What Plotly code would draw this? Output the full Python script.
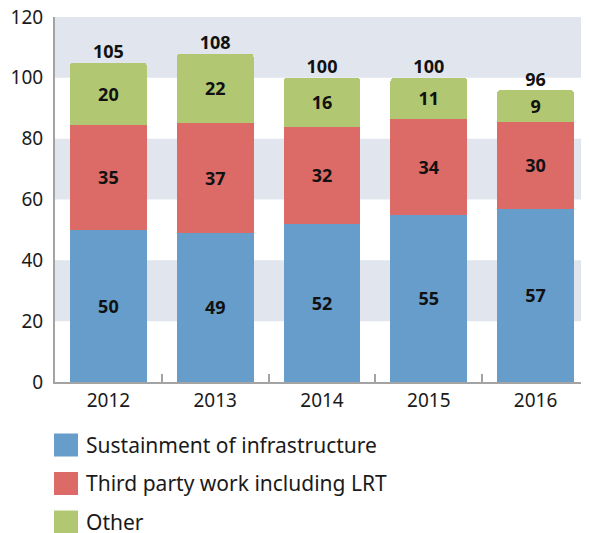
import plotly.graph_objects as go

years = ["2012", "2013", "2014", "2015", "2016"]
# printed data labels
sustainment_labels = [50, 49, 52, 55, 57]
third_party_labels = [35, 37, 32, 34, 30]
other_labels = [20, 22, 16, 11, 9]
totals = [105, 108, 100, 100, 96]
# segment heights as drawn in the picture
sustainment = [50, 49, 52, 55, 57]
third_party = [34.5, 36, 32, 31.5, 28.5]
other = [20.5, 23, 16, 13.5, 10.5]
series_names = ["Sustainment of infrastructure", "Third party work including LRT", "Other"]
colors = ["#669DCB", "#DC6B67", "#B1C772"]
y_ticks = [0, 20, 40, 60, 80, 100, 120]

FONT = "Noto Sans"
OFF = 8  # page body margin
fig = go.Figure()
for name, vals, labs, col in zip(series_names, [sustainment, third_party, other],
                                 [sustainment_labels, third_party_labels, other_labels], colors):
    fig.add_trace(go.Bar(
        x=years, y=vals, name=name, marker=dict(color=col, line=dict(width=0)),
        text=[str(v) for v in labs], textposition="inside", insidetextanchor="middle",
        textfont=dict(family=FONT, size=18, color="#111111", weight="bold"),
        textangle=0, constraintext="none", showlegend=False, hoverinfo="skip",
    ))

# totals above bars
fig.add_trace(go.Scatter(
    x=years, y=totals, mode="text", text=[f"<b>{t}</b>" for t in totals],
    textposition="top center", textfont=dict(family=FONT, size=18, color="#111111"),
    showlegend=False, hoverinfo="skip", cliponaxis=False,
))

# alternating bands
for lo in [20, 60, 100]:
    fig.add_shape(type="rect", xref="paper", yref="y", x0=0, x1=1, y0=lo, y1=lo + 20,
                  fillcolor="#E1E5EE", line=dict(width=0), layer="below")

# manual legend (pixel positions in picture -> paper coords)
L, T, B = 55 - OFF, 17 - OFF, 382 - OFF
W, H = 589 - OFF, 533 - OFF
PW, PH = float(W - L), float(B - T)
for i, (name, col) in enumerate(zip(series_names, colors)):
    cy = 445 + i * 38.5 - OFF
    fig.add_shape(type="rect", xref="paper", yref="paper",
                  x0=(54 - OFF - L) / PW, x1=(78 - OFF - L) / PW,
                  y0=(B - (cy + 11.5)) / PH, y1=(B - (cy - 11.5)) / PH,
                  fillcolor=col, line=dict(width=0))
    fig.add_annotation(xref="paper", yref="paper", x=(84 - OFF - L) / PW, y=(B - cy) / PH,
                       text=name, showarrow=False, xanchor="left", yanchor="middle",
                       font=dict(family=FONT, size=21, color="#1a1a1a"))

fig.update_layout(
    barmode="stack", bargap=0.28, barcornerradius=4,
    width=W, height=H, margin=dict(l=L, r=0, t=T, b=H - B, autoexpand=False),
    plot_bgcolor="white", paper_bgcolor="white",
    font=dict(family=FONT, size=19, color="#1a1a1a"),
    xaxis=dict(type="category", range=[-0.5, 4.5], showline=True, linecolor="#A3A3A3",
               linewidth=2, tickson="boundaries",
               ticks="inside", ticklen=8, tickcolor="#A3A3A3", tickwidth=2,
               tickfont=dict(family=FONT, size=19, color="#1a1a1a"), showgrid=False,
               automargin=False, fixedrange=True),
    yaxis=dict(range=[0, 120], tickvals=y_ticks, showline=True, linecolor="#A3A3A3",
               linewidth=2, showgrid=False, zeroline=False, ticks="", automargin=False,
               tickfont=dict(family=FONT, size=19, color="#1a1a1a"), ticklabelstandoff=6,
               ticklabeloverflow="allow", fixedrange=True),
)
fig.write_html("out.html")
